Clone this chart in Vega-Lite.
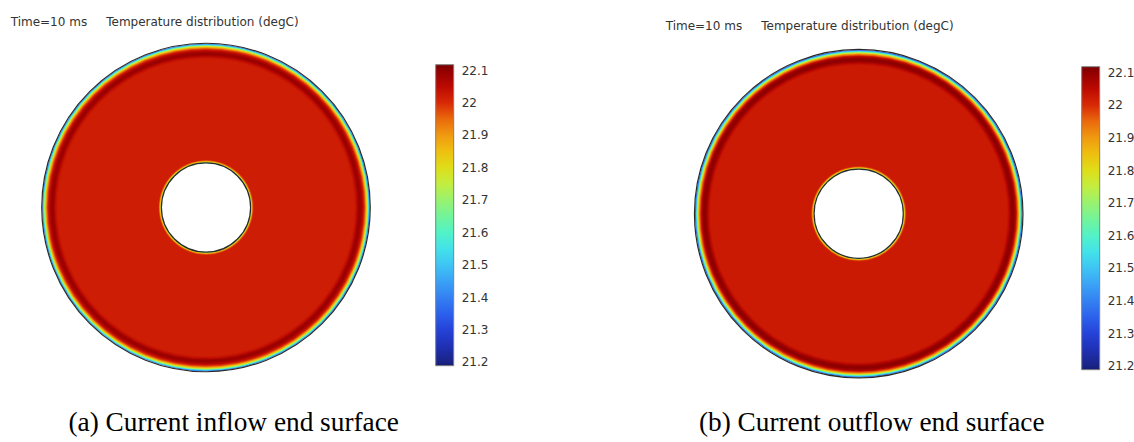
{
  "$schema": "https://vega.github.io/schema/vega-lite/v6.json",
  "background": "white",
  "padding": {"left": 10, "top": 15.5, "right": 0, "bottom": 0},
  "autosize": {"type": "pad"},
  "columns": 2,
  "spacing": {"row": 20.8, "column": 312.7},
  "bounds": "flush",
  "align": "each",
  "resolve": {"scale": {"color": "independent", "radius": "independent"}, "legend": {"color": "independent"}},
  "datasets": {
    "ringsA": [
      {"r": 11.000, "T": 21.40}, {"r": 10.960, "T": 21.50}, {"r": 10.919, "T": 21.60}, {"r": 10.879, "T": 21.70},
      {"r": 10.839, "T": 21.78}, {"r": 10.799, "T": 21.85}, {"r": 10.758, "T": 21.90}, {"r": 10.718, "T": 21.94},
      {"r": 10.678, "T": 21.98}, {"r": 10.631, "T": 22.01}, {"r": 10.584, "T": 22.04}, {"r": 10.530, "T": 22.06},
      {"r": 10.463, "T": 22.08}, {"r": 10.396, "T": 22.09}, {"r": 10.328, "T": 22.09}, {"r": 10.261, "T": 22.08},
      {"r": 10.194, "T": 22.06}, {"r": 10.127, "T": 22.04}, {"r": 10.060, "T": 22.03}, {"r": 9.993, "T": 22.02},
      {"r": 3.197, "T": 22.00}, {"r": 3.156, "T": 21.95}, {"r": 3.116, "T": 21.88}, {"r": 3.076, "T": 21.80},
      {"r": 3.035, "T": 21.70}, {"r": 3.009, "T": 21.62}
    ],
    "ringsB": [
      {"r": 11.000, "T": 21.35}, {"r": 10.960, "T": 21.45}, {"r": 10.919, "T": 21.55}, {"r": 10.879, "T": 21.65},
      {"r": 10.839, "T": 21.74}, {"r": 10.799, "T": 21.82}, {"r": 10.758, "T": 21.88}, {"r": 10.718, "T": 21.93},
      {"r": 10.678, "T": 21.97}, {"r": 10.631, "T": 22.01}, {"r": 10.584, "T": 22.05}, {"r": 10.530, "T": 22.08},
      {"r": 10.463, "T": 22.10}, {"r": 10.396, "T": 22.105}, {"r": 10.328, "T": 22.10}, {"r": 10.261, "T": 22.09},
      {"r": 10.194, "T": 22.07}, {"r": 10.127, "T": 22.05}, {"r": 10.060, "T": 22.035}, {"r": 9.993, "T": 22.025},
      {"r": 3.197, "T": 22.00}, {"r": 3.156, "T": 21.95}, {"r": 3.116, "T": 21.88}, {"r": 3.076, "T": 21.80},
      {"r": 3.035, "T": 21.70}, {"r": 3.009, "T": 21.62}
    ],
    "edges": [
      {"edge": "outer", "r": 11.03},
      {"edge": "inner", "r": 2.995}
    ]
  },
  "concat": [
    {
      "width": 340,
      "height": 340,
      "title": {"text": "Time=10 ms\u00a0\u00a0\u00a0\u00a0\u00a0Temperature distribution (degC)", "anchor": "start", "frame": "group", "dx": -25.3, "offset": 0, "baseline": "alphabetic"},
      "layer": [
        {
          "data": {"name": "ringsA"},
          "mark": {"type": "arc", "theta": 0, "theta2": 6.2832},
          "encoding": {
            "radius": {"field": "r", "type": "quantitative", "stack": null, "scale": {"type": "linear", "domain": [0, 11], "range": [0, 163.8], "zero": true}},
            "color": {
              "field": "T", "type": "quantitative",
              "scale": {
                "type": "linear", "interpolate": "rgb", "clamp": true,
                "domain": [21.19, 21.2, 21.25, 21.3, 21.35, 21.4, 21.45, 21.5, 21.55, 21.6, 21.65, 21.7, 21.75, 21.8, 21.85, 21.9, 21.95, 22.0, 22.05, 22.1, 22.118],
                "range": ["#141a6e", "#1a2384", "#1f30b4", "#2542d8", "#2c60ec", "#3480f2", "#3aa2f6", "#3ec4f4", "#42e2ea", "#52f2c8", "#72f49a", "#98f270", "#c2ee40", "#dede18", "#eec010", "#f09a10", "#ea6a0c", "#d82a06", "#bc0a02", "#920000", "#780000"]
              },
              "legend": {"orient": "none", "legendX": 399.7, "legendY": 27.2, "direction": "vertical", "gradientLength": 301, "gradientThickness": 18, "values": [21.2, 21.3, 21.4, 21.5, 21.6, 21.7, 21.8, 21.9, 22, 22.1], "format": "~g", "title": null, "labelOffset": 8, "padding": 0}
            }
          }
        },
        {
          "data": {"name": "edges"},
          "transform": [{"filter": "datum.edge == 'outer'"}],
          "mark": {"type": "arc", "theta": 0, "theta2": 6.2832, "filled": false, "stroke": "#2a2a2a", "strokeWidth": 1.2},
          "encoding": {"radius": {"field": "r", "type": "quantitative", "stack": null, "scale": {"type": "linear", "domain": [0, 11], "range": [0, 163.8], "zero": true}}}
        },
        {
          "data": {"name": "edges"},
          "transform": [{"filter": "datum.edge == 'inner'"}],
          "mark": {"type": "arc", "theta": 0, "theta2": 6.2832, "fill": "white", "stroke": "#2a2a2a", "strokeWidth": 1.2},
          "encoding": {"radius": {"field": "r", "type": "quantitative", "stack": null, "scale": {"type": "linear", "domain": [0, 11], "range": [0, 163.8], "zero": true}}}
        }
      ]
    },
    {
      "width": 340,
      "height": 352.4,
      "title": {"text": "Time=10 ms\u00a0\u00a0\u00a0\u00a0\u00a0Temperature distribution (degC)", "anchor": "start", "frame": "group", "dx": -23, "dy": 4, "offset": 0, "baseline": "alphabetic"},
      "layer": [
        {
          "data": {"name": "ringsB"},
          "mark": {"type": "arc", "theta": 0, "theta2": 6.2832},
          "encoding": {
            "radius": {"field": "r", "type": "quantitative", "stack": null, "scale": {"type": "linear", "domain": [0, 11], "range": [0, 163.8], "zero": true}},
            "color": {
              "field": "T", "type": "quantitative",
              "scale": {
                "type": "linear", "interpolate": "rgb", "clamp": true,
                "domain": [21.19, 21.2, 21.25, 21.3, 21.35, 21.4, 21.45, 21.5, 21.55, 21.6, 21.65, 21.7, 21.75, 21.8, 21.85, 21.9, 21.95, 22.0, 22.05, 22.1, 22.118],
                "range": ["#141a6e", "#1a2384", "#1f30b4", "#2542d8", "#2c60ec", "#3480f2", "#3aa2f6", "#3ec4f4", "#42e2ea", "#52f2c8", "#72f49a", "#98f270", "#c2ee40", "#dede18", "#eec010", "#f09a10", "#ea6a0c", "#d82a06", "#bc0a02", "#920000", "#780000"]
              },
              "legend": {"orient": "none", "legendX": 393, "legendY": 29.2, "direction": "vertical", "gradientLength": 303, "gradientThickness": 18, "values": [21.2, 21.3, 21.4, 21.5, 21.6, 21.7, 21.8, 21.9, 22, 22.1], "format": "~g", "title": null, "labelOffset": 8, "padding": 0}
            }
          }
        },
        {
          "data": {"name": "edges"},
          "transform": [{"filter": "datum.edge == 'outer'"}],
          "mark": {"type": "arc", "theta": 0, "theta2": 6.2832, "filled": false, "stroke": "#2a2a2a", "strokeWidth": 1.2},
          "encoding": {"radius": {"field": "r", "type": "quantitative", "stack": null, "scale": {"type": "linear", "domain": [0, 11], "range": [0, 163.8], "zero": true}}}
        },
        {
          "data": {"name": "edges"},
          "transform": [{"filter": "datum.edge == 'inner'"}],
          "mark": {"type": "arc", "theta": 0, "theta2": 6.2832, "fill": "white", "stroke": "#2a2a2a", "strokeWidth": 1.2},
          "encoding": {"radius": {"field": "r", "type": "quantitative", "stack": null, "scale": {"type": "linear", "domain": [0, 11], "range": [0, 163.8], "zero": true}}}
        }
      ]
    },
    {
      "width": 340,
      "height": 40,
      "data": {"values": [{"caption": "(a) Current inflow end surface"}]},
      "mark": {"type": "text", "font": "Liberation Serif", "fontSize": 27.3, "baseline": "alphabetic", "align": "center", "dx": 27.7, "color": "#000000"},
      "encoding": {"text": {"field": "caption", "type": "nominal"}}
    },
    {
      "width": 340,
      "height": 40,
      "data": {"values": [{"caption": "(b) Current outflow end surface"}]},
      "mark": {"type": "text", "font": "Liberation Serif", "fontSize": 27.3, "baseline": "alphabetic", "align": "center", "dx": 13, "color": "#000000"},
      "encoding": {"text": {"field": "caption", "type": "nominal"}}
    }
  ],
  "config": {
    "view": {"stroke": null},
    "title": {"font": "DejaVu Sans", "fontSize": 12, "fontWeight": "normal", "color": "#333333"},
    "legend": {"labelFont": "DejaVu Sans", "labelFontSize": 12, "labelColor": "#333333", "gradientStrokeColor": "#808080", "gradientStrokeWidth": 1}
  }
}
